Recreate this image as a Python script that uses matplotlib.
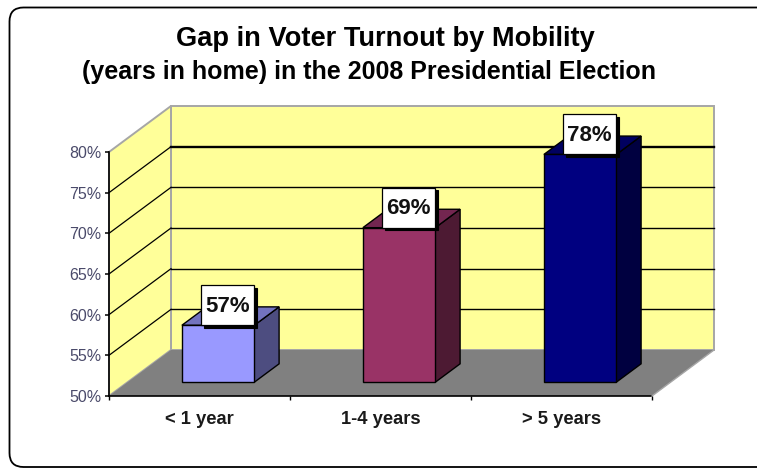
import matplotlib
matplotlib.use("Agg")
import matplotlib.pyplot as plt
from matplotlib.patches import Polygon, Rectangle, PathPatch
from matplotlib.path import Path

plt.rcParams['font.family'] = ['Liberation Sans', 'DejaVu Sans']

categories = ['< 1 year', '1-4 years', '> 5 years']
values = [57, 69, 78]
value_labels = ['57%', '69%', '78%']
y_ticks = [50, 55, 60, 65, 70, 75, 80]
y_tick_labels = ['50%', '55%', '60%', '65%', '70%', '75%', '80%']
face_colors = ['#9999FF', '#993366', '#000080']
side_colors = ['#4D4D80', '#4D1A33', '#000040']
top_colors = ['#7373BF', '#732650', '#000060']
title_main = 'Gap in Voter Turnout by Mobility'
title_sub = '(years in home) in the 2008 Presidential Election'

W, H = 758, 468
fig = plt.figure(figsize=(W / 100, H / 100), dpi=100, facecolor='white')

# frame overlay in pixel coordinates (open on the right)
bg = fig.add_axes([0, 0, 1, 1])
bg.set_xlim(0, W); bg.set_ylim(H, 0); bg.axis('off')
r = 14
L, T, R, B = 9.5, 7.5, 757, 467
verts = [(R, T), (L + r, T), (L, T), (L, T + r), (L, B - r), (L, B), (L + r, B), (R, B)]
codes = [Path.MOVETO, Path.LINETO, Path.CURVE3, Path.CURVE3, Path.LINETO, Path.CURVE3, Path.CURVE3, Path.LINETO]
bg.add_patch(PathPatch(Path(verts, codes), fc='none', ec='black', lw=1.3))

# main axes: the front plane of the 3-D box
x0, x1, ytop, ybot = 109, 652, 152, 396
ax = fig.add_axes([x0 / W, 1 - ybot / H, (x1 - x0) / W, (ybot - ytop) / H])
ax.set_xlim(0, 3)
ax.set_ylim(50, 80)
ax.patch.set_alpha(0)
for s in ax.spines.values():
    s.set_visible(False)

# pixel-to-data scales and depth expressed in data units
PX = 3 / (x1 - x0)
PY = 30 / (ybot - ytop)
DX = 62 * PX
DY = 46 * PY
def p(x, y, d=0.0):
    return (x + DX * d, y + DY * d)

kw = dict(clip_on=False)
WALL = '#FFFF99'
EDGE = '#A6A6A6'
# back wall, side wall, floor
ax.add_patch(Polygon([p(0, 50, 1), p(3, 50, 1), p(3, 80, 1), p(0, 80, 1)], fc=WALL, ec=EDGE, lw=1.4, zorder=1, **kw))
ax.add_patch(Polygon([p(0, 50, 0), p(0, 50, 1), p(0, 80, 1), p(0, 80, 0)], fc=WALL, ec=EDGE, lw=1.4, zorder=1, **kw))
ax.add_patch(Polygon([p(0, 50, 0), p(3, 50, 0), p(3, 50, 1), p(0, 50, 1)], fc='#808080', ec='none', zorder=2, **kw))

# gridlines on the walls
for v in y_ticks[1:-1]:
    lw = 1.7 if v == 75 else 1.0
    a, b, c = p(0, v, 0), p(0, v, 1), p(3, v, 1)
    ax.plot([a[0], b[0]], [a[1], b[1]], color='black', lw=0.9, zorder=3, **kw)
    ax.plot([b[0], c[0]], [b[1], c[1]], color='black', lw=lw, zorder=3, **kw)

# axis lines and ticks
ax.plot([0, 0], [50, 80], color='black', lw=1.2, zorder=4, **kw)
ax.plot([0, 3], [50, 50], color='black', lw=1.2, zorder=4, **kw)
ax.plot([3, 3 + DX], [50, 50 + DY], color='#A6A6A6', lw=1.0, zorder=4, **kw)
ax.set_yticks(y_ticks)
ax.set_yticklabels(y_tick_labels, fontsize=11.5, color='#4A4A6A')
ax.set_xticks([0, 1, 2, 3])
ax.set_xticklabels([])
ax.tick_params(axis='y', length=3, width=1.1, pad=2.5, color='black')
ax.tick_params(axis='x', length=3, width=1.0, color='black')
for i, c in enumerate(categories):
    ax.annotate(c, (i + 0.5, 50), xytext=(0, -23), textcoords='offset pixels',
                ha='center', va='center', fontsize=13.2, fontweight='bold', color='#1A1A1A', annotation_clip=False)

# bars
BW = 0.4
D0, D1 = 0.30, 0.70
BOX_W, BOX_H, SH = 53 * PX, 40 * PY, 2.5
for i, v in enumerate(values):
    xa, xb = i + 0.5 - BW / 2, i + 0.5 + BW / 2
    ed = dict(ec='black', lw=1.0, zorder=5 + i, joinstyle='miter', **kw)
    ax.add_patch(Polygon([p(xb, 50, D0), p(xb, 50, D1), p(xb, v, D1), p(xb, v, D0)], fc=side_colors[i], **ed))
    ax.add_patch(Polygon([p(xa, v, D0), p(xb, v, D0), p(xb, v, D1), p(xa, v, D1)], fc=top_colors[i], **ed))
    ax.add_patch(Polygon([p(xa, 50, D0), p(xb, 50, D0), p(xb, v, D0), p(xa, v, D0)], fc=face_colors[i], **ed))
    # value label box, with a hard shadow; its lower right corner sits on the bar's front top corner
    bx, by = p(xb, v, D0)
    ax.add_patch(Rectangle((bx - BOX_W + SH * PX, by - SH * PY), BOX_W, BOX_H, fc='black', ec='black', lw=0.8, zorder=20, **kw))
    ax.add_patch(Rectangle((bx - BOX_W, by), BOX_W, BOX_H, fc='white', ec='black', lw=0.9, zorder=21, **kw))
    ax.text(bx - BOX_W / 2, by + BOX_H / 2 - 1 * PY, value_labels[i], ha='center', va='center', fontsize=16,
            fontweight='bold', color='#111111', zorder=22, **kw)

fig.text(385 / W, 1 - 39 / H, title_main, ha='center', va='center', fontsize=19.6, fontweight='bold', color='black')
fig.text(369 / W, 1 - 71.5 / H, title_sub, ha='center', va='center', fontsize=18, fontweight='bold', color='black')

fig.savefig('out.png', dpi=100)
